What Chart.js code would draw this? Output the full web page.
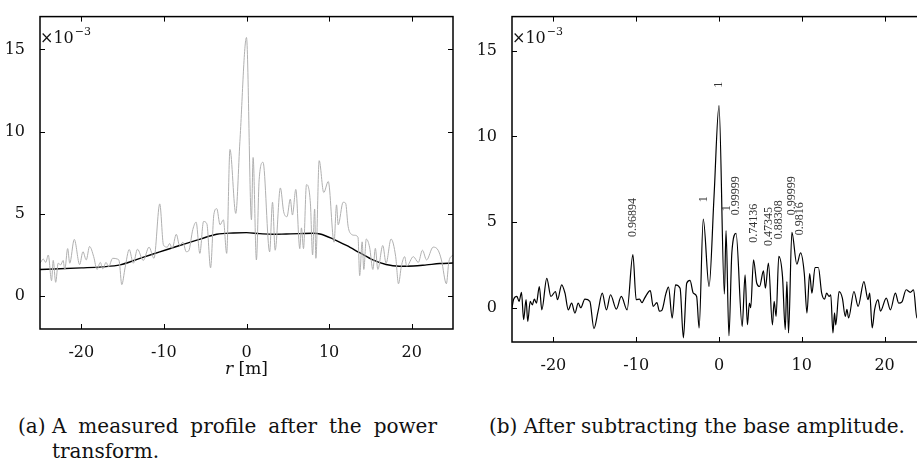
<!DOCTYPE html>
<html>
<head>
<meta charset="utf-8">
<script src="https://cdn.jsdelivr.net/npm/chart.js@4.4.1/dist/chart.umd.min.js"></script>
<style>
  html, body { margin: 0; padding: 0; background: #fff; }
  body { width: 917px; height: 466px; overflow: hidden; position: relative; }
  canvas { position: absolute; }
  .cap { position: absolute; font-family: "DejaVu Serif", serif; font-size: 20px; line-height: 24px; color: #111; white-space: nowrap; }
</style>
</head>
<body>
<canvas id="panelA" width="460" height="380" style="left:0;top:0"></canvas>
<canvas id="panelB" width="470" height="393" style="left:472px;top:0"></canvas>

<div class="cap" style="left:18px;top:414px">(a)</div>
<div class="cap" style="left:52px;top:414px;width:385px;text-align:justify;text-align-last:justify;white-space:normal">A measured profile after the power</div>
<div class="cap" style="left:52px;top:439px">transform.</div>
<div class="cap" style="left:489px;top:414px">(b) After subtracting the base amplitude.</div>

<script>
// (a) measured profile (r in m, amplitude in 1e-3)
const rA = [-25, -24.6, -24.3, -24, -23.6, -23.4, -23.1, -22.8, -22.5, -22.2, -22, -21.65, -21.4, -20.85, -20.2,
  -19.8, -19.4, -19, -18.5, -18.1, -17.7, -17.4, -17, -16.7, -16.2, -15.6, -15.4, -15.1, -14.7, -14.2, -13.7,
  -13.2, -12.5, -11.8, -11.2, -10.5, -10.05, -9.6, -9.3, -9, -8.5, -8.1, -7.7, -7.3, -7, -6.5, -6.1, -5.65,
  -5.2, -4.8, -4.35, -3.95, -3.6, -3.2, -2.8, -2.4, -2, -1.3, -0.8, 0, 0.6, 0.8, 1.2, 1.53, 2, 2.8, 3.15, 3.47,
  4.1, 4.5, 4.9, 5.3, 5.56, 5.97, 6.45, 6.65, 6.9, 7.26, 7.74, 8, 8.25, 8.4, 8.8, 9.35, 9.9, 10.6, 10.9, 11.1,
  11.7, 12, 12.3, 12.7, 13.1, 13.5, 13.7, 14, 14.2, 14.5, 14.9, 15.3, 15.6, 15.9, 16.5, 16.9, 17.5, 18.06,
  18.4, 18.75, 19.15, 19.4, 20.2, 20.8, 21.3, 21.8, 22.6, 23.2, 23.6, 24.2, 24.5, 25];
const ampA = [2.0, 2.25, 2.05, 2.5, 0.94, 2.17, 0.84, 2.0, 1.9, 2.17, 1.6, 2.89, 2.0, 3.45, 1.92,
  2.7, 2.2, 3.02, 2.4, 1.62, 2.05, 1.66, 2.05, 1.78, 2.3, 2.25, 2.1, 0.7, 1.72, 2.83, 2.0,
  2.85, 2.17, 2.98, 2.3, 5.61, 3.1, 2.98, 3.2, 2.9, 3.76, 3.08, 3.28, 2.7, 2.75, 4.05, 4.5, 2.6,
  4.54, 4.4, 1.72, 4.97, 5.32, 4.34, 4.64, 2.6, 8.92, 5.03, 9.4, 15.73, 4.64, 8.43, 2.2, 7.07, 8.14, 2.69, 5.71, 2.79,
  6.58, 5.13, 4.83, 5.9, 4.93, 6.49, 2.89, 4.15, 2.89, 6.78, 5.61, 2.5, 5.3, 2.3, 8.24, 6.3, 6.97, 3.28, 5.55, 4.34,
  5.71, 5.65, 4.25, 3.76, 3.7, 3.57, 1.24, 3.3, 1.62, 3.47, 2.98, 1.62, 2.9, 1.62, 3.08, 2.0, 3.47, 2.4,
  0.75, 1.82, 2.4, 1.82, 2.4, 2.05, 2.79, 2.2, 2.98, 2.79, 2.2, 0.75, 2.1, 2.5];

// (a) base amplitude
const rBase = [-25, -20, -17.5, -15.3, -12.9, -10.5, -8.1, -5.6, -3.6, -1.6, 0, 1.6, 3.2, 4.8, 6.4, 8.1, 8.9,
  10.5, 12.1, 13.7, 15.3, 16.9, 18.5, 20.2, 21.8, 23.4, 25];
const ampBase = [1.62, 1.72, 1.78, 1.9, 2.3, 2.69, 3.08, 3.47, 3.76, 3.84, 3.86, 3.8, 3.76, 3.78, 3.8, 3.82, 3.78,
  3.47, 3.08, 2.64, 2.2, 1.92, 1.82, 1.83, 1.9, 1.98, 2.01];

// (b) after subtracting the base amplitude
const rB = [-25, -24.8, -24.4, -24.15, -23.85, -23.6, -23.3, -23.1, -22.8, -22.55, -22.3, -22.05, -21.7, -21.4,
  -20.8, -20.3, -19.75, -19.5, -19, -18.6, -18.2, -17.8, -17.4, -17, -16.7, -16.2, -15.6, -15.1, -14.6, -14.1,
  -13.6, -13.1, -12.4, -11.8, -11.1, -10.4, -10, -9.6, -9.3, -9, -8.3, -7.95, -7.5, -7.2, -6.9, -6.4, -6.1,
  -5.65, -5.25, -4.7, -4.3, -3.9, -3.5, -3.1, -2.7, -2.4, -1.9, -1.2, -0.6, 0, 0.65, 0.85, 1.2, 1.55, 2.06,
  2.8, 3.15, 3.43, 3.67, 3.83, 4.17, 4.56, 4.9, 5.37, 5.6, 5.97, 6.45, 6.66, 6.9, 7.22, 7.67, 8, 8.2, 8.4, 8.8,
  9.4, 9.85, 10.3, 10.62, 10.95, 11.22, 11.6, 12, 12.4, 12.75, 13, 13.3, 13.5, 13.76, 13.95, 14.1, 14.5, 14.9,
  15.25, 15.45, 15.65, 16.3, 16.8, 17.5, 18, 18.2, 18.5, 18.8, 19.2, 19.5, 20.2, 20.7, 21.3, 21.7, 22.1, 22.6,
  23.1, 23.5, 23.9, 24.3, 25];
const ampB = [0.0, 0.5, 0.66, 0.37, 0.9, -0.7, 0.47, -0.8, 0.37, 0.17, 0.5, 0.27, 1.24, -0.12,
  1.72, 0.66, 0.95, 0.47, 1.34, 0.85, -0.12, 0.27, -0.31, 0.27, 0.0, 0.5, 0.37, -1.22, -0.2, 0.85,
  -0.12, 0.76, -0.08, 0.66, -0.12, 3.1, 0.47, 0.5, 0.3, 0.55, 1.0, 0.08, 0.3, -0.2, -0.15, 0.85, 1.2,
  -0.6, 1.34, 1.14, -1.76, 1.43, 1.6, 0.85, 0.66, -1.18, 5.17, 1.24, 6.5, 11.8, 0.8, 4.5, -1.63, 3.2, 4.34,
  -1.09, 1.92, -0.99, 0.27, 0.0, 2.8, 1.43, 1.24, 2.15, 1.14, 2.6, -1.0, 0.37, -0.5, 3.0, 1.82, -1.28, 1.53, -1.47, 4.4,
  2.55, 3.2, 2.0, -0.31, 2.0, 0.85, 2.35, 2.35, 0.85, 0.5, 0.85, 0.66, 0.75, -1.47, -0.3, -1.0, 0.95, 0.56,
  -0.5, -0.1, -0.6, 0.95, 0.08, 1.53, 0.47, 0.85, -1.18, -0.1, 0.47, -0.2, 0.56, -0.12, 0.85, 0.27, 0.35, 1.05,
  0.9, 1.05, -0.6, -0.2, 0.3];

// peak labels in (b): text, r position, amplitude where the text starts
const peakLabels = ["0.96894", "1", "1", "1", "0.99999", "0.74136", "0.47345", "0.88308", "0.99999", "0.9816"];
const peakR = [-10.4, -1.8, 0.04, 0.93, 2.06, 4.16, 5.97, 7.18, 8.8, 9.8];
const peakLabelY = [4.13, 6.16, 12.85, 5.64, 5.4, 3.8, 3.6, 4.0, 5.4, 4.24];

const xTicks = [-20, -10, 0, 10, 20];
const yTicks = [0, 5, 10, 15];

const pts = (xs, ys) => xs.map((x, i) => ({ x: x, y: ys[i] }));
const serif = "DejaVu Serif";

// box round the plot, with tick marks pointing inward on all sides
const frame = {
  id: "frame",
  afterDraw(chart) {
    const ctx = chart.ctx, a = chart.chartArea;
    const xs = chart.scales.x, ys = chart.scales.y;
    ctx.save();
    ctx.strokeStyle = "#000";
    ctx.lineWidth = 1;
    ctx.beginPath();
    xTicks.forEach(v => {
      const p = Math.round(xs.getPixelForValue(v)) + 0.5;
      ctx.moveTo(p, a.bottom); ctx.lineTo(p, a.bottom - 5);
      ctx.moveTo(p, a.top); ctx.lineTo(p, a.top + 5);
    });
    yTicks.forEach(v => {
      const p = Math.round(ys.getPixelForValue(v)) + 0.5;
      ctx.moveTo(a.left, p); ctx.lineTo(a.left + 5, p);
      ctx.moveTo(a.right, p); ctx.lineTo(a.right - 5, p);
    });
    ctx.stroke();
    ctx.lineWidth = 1.5;
    ctx.strokeRect(a.left, a.top, a.right - a.left, a.bottom - a.top);
    // exponent note
    ctx.fillStyle = "#111";
    ctx.textBaseline = "alphabetic";
    ctx.textAlign = "left";
    ctx.font = "16px " + serif;
    const base = a.top + 26;
    ctx.fillText("\u00d710", a.left, base);
    const w = ctx.measureText("\u00d710").width;
    ctx.font = "11px " + serif;
    ctx.fillText("\u22123", a.left + w + 1, base - 8);
    ctx.restore();
  }
};

const axisTitle = {
  id: "axisTitle",
  afterDraw(chart) {
    const ctx = chart.ctx, a = chart.chartArea;
    const cx = (a.left + a.right) / 2;
    ctx.save();
    ctx.fillStyle = "#111";
    ctx.textBaseline = "middle";
    ctx.font = "italic 17px " + serif;
    const w1 = ctx.measureText("r").width;
    ctx.font = "17px " + serif;
    const w2 = ctx.measureText(" [m]").width;
    const x0 = cx - (w1 + w2) / 2;
    ctx.font = "italic 17px " + serif;
    ctx.textAlign = "left";
    ctx.fillText("r", x0, 370);
    ctx.font = "17px " + serif;
    ctx.fillText(" [m]", x0 + w1, 370);
    ctx.restore();
  }
};

const peakNotes = {
  id: "peakNotes",
  afterDatasetsDraw(chart) {
    const ctx = chart.ctx, xs = chart.scales.x, ys = chart.scales.y;
    ctx.save();
    ctx.fillStyle = "#333";
    ctx.font = "12px 'Liberation Serif'";
    ctx.textAlign = "left";
    ctx.textBaseline = "middle";
    peakLabels.forEach((t, i) => {
      ctx.save();
      ctx.translate(xs.getPixelForValue(peakR[i]), ys.getPixelForValue(peakLabelY[i]));
      ctx.rotate(-Math.PI / 2);
      ctx.fillText(t, 0, 0);
      ctx.restore();
    });
    ctx.restore();
  }
};

function scalesFor() {
  return {
    x: {
      type: "linear", min: -25, max: 25,
      afterBuildTicks: s => { s.ticks = xTicks.map(v => ({ value: v })); },
      afterFit: s => { s.height = 51; },
      grid: { display: false },
      border: { display: false },
      ticks: { color: "#111", padding: 6, maxRotation: 0, font: { family: serif, size: 16 } }
    },
    y: {
      type: "linear", min: -2, max: 17,
      afterBuildTicks: s => { s.ticks = yTicks.map(v => ({ value: v })); },
      afterFit: s => { s.width = 40; },
      grid: { display: false },
      border: { display: false },
      ticks: { color: "#111", padding: 7, font: { family: serif, size: 16 } }
    }
  };
}

const common = {
  responsive: false,
  animation: false,
  devicePixelRatio: 1,
  events: [],
  plugins: { legend: { display: false }, tooltip: { enabled: false } }
};

new Chart(document.getElementById("panelA"), {
  type: "line",
  data: {
    datasets: [
      { data: pts(rA, ampA), borderColor: "#b0b0b0", borderWidth: 1, pointRadius: 0, cubicInterpolationMode: "monotone" },
      { data: pts(rBase, ampBase), borderColor: "#000", borderWidth: 1.4, pointRadius: 0, cubicInterpolationMode: "monotone" }
    ]
  },
  options: Object.assign({}, common, {
    layout: { padding: { top: 4, right: 7, left: 0, bottom: 0 } },
    scales: scalesFor()
  }),
  plugins: [frame, axisTitle]
});

new Chart(document.getElementById("panelB"), {
  type: "line",
  data: {
    datasets: [
      { data: pts(rB, ampB), borderColor: "#000", borderWidth: 1.2, pointRadius: 0, cubicInterpolationMode: "monotone" }
    ]
  },
  options: Object.assign({}, common, {
    layout: { padding: { top: 16, right: 16, left: 0, bottom: 0 } },
    scales: scalesFor()
  }),
  plugins: [frame, peakNotes]
});
</script>
</body>
</html>
